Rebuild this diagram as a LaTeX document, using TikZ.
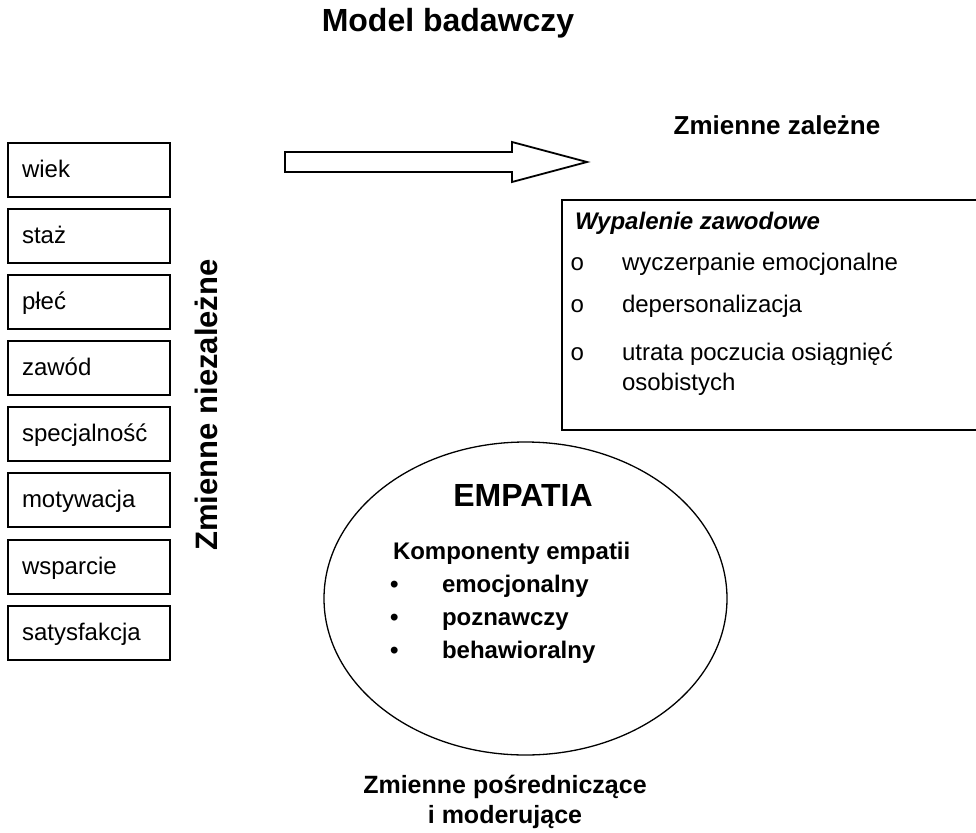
\documentclass[tikz,border=0pt]{standalone}
\usepackage{fontspec}
\setmainfont{Liberation Sans}
\newfontfamily\monofam{Liberation Mono}
\usetikzlibrary{shapes.geometric}
\begin{document}
\begin{tikzpicture}[x=1pt,y=-1pt,
  every node/.style={inner sep=0pt,outer sep=0pt},
  varbox/.style={draw,line width=1.8pt,anchor=north west,
    minimum width=162pt,minimum height=54pt,
    text width=134pt,align=left,
    text height=18pt,text depth=4pt,
    font=\fontsize{24}{28}\selectfont},
  body/.style={anchor=base west,font=\fontsize{24}{28}\selectfont},
  ring/.style={anchor=base west,font=\fontsize{24}{28}\monofam},
  bodyb/.style={anchor=base west,font=\fontsize{24}{28}\selectfont\bfseries},
  heading/.style={anchor=base,font=\fontsize{25}{30}\selectfont\bfseries},
  outline/.style={draw,line width=1.8pt}]
\useasboundingbox (0,0) rectangle (976,832);

% title
\node[anchor=base,font=\fontsize{32}{38}\selectfont\bfseries] (title) at (448,32) {Model badawczy};

% independent variables
\node[varbox] (wiek)  at (8,143) {wiek};
\node[varbox] (staz)  at (8,209) {staż};
\node[varbox] (plec)  at (8,275) {płeć};
\node[varbox] (zawod) at (8,341) {zawód};
\node[varbox] (spec)  at (8,407) {specjalność};
\node[varbox] (motyw) at (8,473) {motywacja};
\node[varbox] (wsp)   at (8,540) {wsparcie};
\node[varbox] (sat)   at (8,606) {satysfakcja};

\node[anchor=base,rotate=90,font=\fontsize{31}{36}\selectfont\bfseries] (niezal) at (217,405) {Zmienne niezależne};

% block arrow
\draw[outline] (285,152) -- (512,152) -- (512,142) -- (587,162)
  -- (512,182) -- (512,172) -- (285,172) -- cycle;

% dependent variables
\node[heading,font=\fontsize{26}{30}\selectfont\bfseries] (zal) at (777,135) {Zmienne zależne};
\node[outline,anchor=north west,minimum width=430pt,minimum height=230pt] (burn) at (562,200) {};
\node[bodyb,font=\fontsize{24}{28}\selectfont\bfseries\itshape] (wyp) at (575,229) {Wypalenie zawodowe};
\node[ring] (o1) at (570,270) {o};
\node[body] (b1) at (622,270) {wyczerpanie emocjonalne};
\node[ring] (o2) at (570,312) {o};
\node[body] (b2) at (622,312) {depersonalizacja};
\node[ring] (o3) at (570,360) {o};
\node[body] (b3) at (622,360) {utrata poczucia osiągnięć};
\node[body] (b3b) at (622,390) {osobistych};

% mediating variables
\node[draw,line width=1.3pt,ellipse,minimum width=403pt,minimum height=313pt] (emp) at (525.5,598.5) {};
\node[anchor=base,font=\fontsize{32}{38}\selectfont\bfseries] (empt) at (523,506) {EMPATIA};
\node[bodyb] (komp) at (393,559) {Komponenty empatii};
\node[bodyb] (d1) at (390,592) {•};
\node[bodyb] (k1) at (442,592) {emocjonalny};
\node[bodyb] (d2) at (390,625) {•};
\node[bodyb] (k2) at (442,625) {poznawczy};
\node[bodyb] (d3) at (390,658) {•};
\node[bodyb] (k3) at (442,658) {behawioralny};

\node[heading] (posr1) at (505,793) {Zmienne pośredniczące};
\node[heading] (posr2) at (505,823) {i moderujące};
\end{tikzpicture}
\end{document}
